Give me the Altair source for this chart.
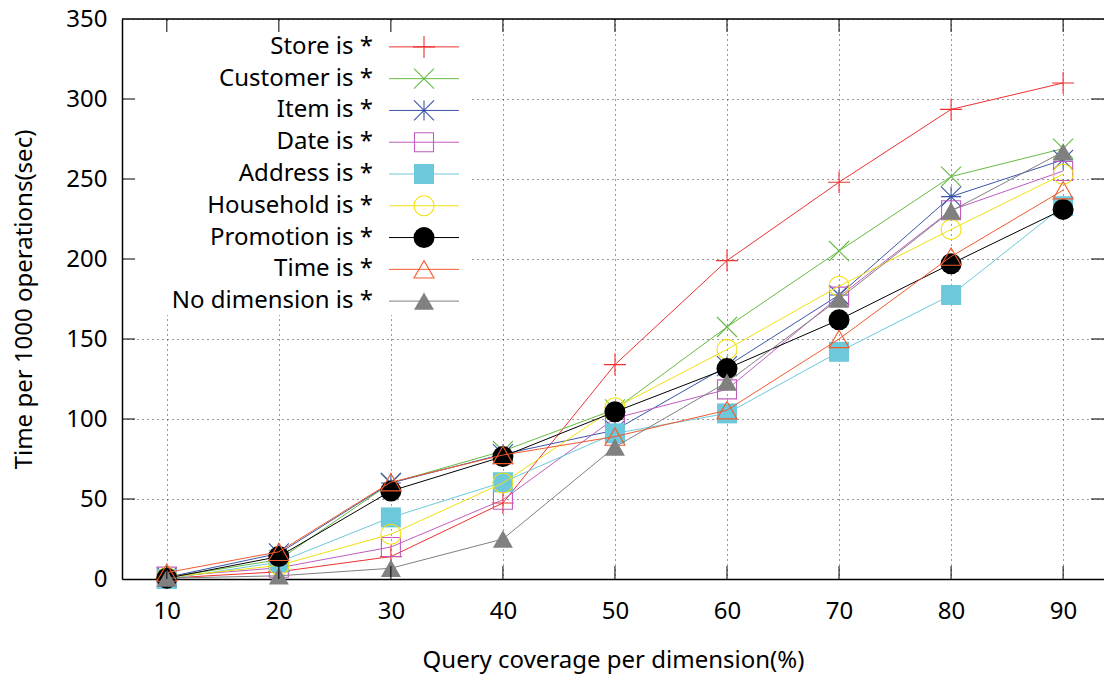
import altair as alt
import pandas as pd

# ---------------- data ----------------
x_values = [10, 20, 30, 40, 50, 60, 70, 80, 90]
y_ticks = [0, 50, 100, 150, 200, 250, 300, 350]
series_names = ["Store is *", "Customer is *", "Item is *", "Date is *",
                "Address is *", "Household is *", "Promotion is *",
                "Time is *", "No dimension is *"]

store = [0.5, 4.5, 14, 47.5, 134, 199, 248, 293.5, 310]
customer = [1, 12, 60, 80, 106, 157.5, 205, 251.5, 269]
item = [1, 16, 60, 78, 93, 133, 177.5, 239, 262]
date = [1.5, 7, 20, 49.5, 100.5, 118.5, 176.5, 230.5, 255]
address = [0, 10.5, 38.5, 60.5, 91, 103.5, 142, 177.5, 233]
household = [1, 8.5, 28, 60, 107, 143.5, 183, 218.5, 253]
promotion = [0.5, 14, 55, 76.5, 104.5, 131.5, 162, 197, 231]
time_dim = [4, 17, 60.5, 77.5, 89, 105.5, 150, 201.5, 243]
no_dim = [0.5, 2, 6.7, 25, 82.5, 123, 175, 230, 267]

series_values = [store, customer, item, date, address, household,
                 promotion, time_dim, no_dim]

# ---------------- styles ----------------
PLUS = "M-1,0L1,0M0,-1L0,1"
XSH = "M-1,-1L1,1M-1,1L1,-1"
AST = "M-1,0L1,0M0,-1L0,1M-1,-1L1,1M-1,1L1,-1"
colors = ["#ee3030", "#66bb44", "#3a56a8", "#c05cc0", "#6cc8da",
          "#f0e010", "#000000", "#f25a2e", "#808080"]
shapes = [PLUS, XSH, AST, "square", "square", "circle", "circle",
          "triangle-up", "triangle-up"]
filled = [False, False, False, False, True, False, True, False, True]
sizes = [484, 400, 400, 361, 400, 400, 441, 400, 400]

FONT = "Noto Sans"
W, H = 982, 560

rows = []
for name, vals in zip(series_names, series_values):
    for xv, yv in zip(x_values, vals):
        rows.append({"x": xv, "value": yv, "series": name})
df = pd.DataFrame(rows)

x_scale = alt.Scale(domain=[6, 93.65], nice=False, zero=False)
y_scale = alt.Scale(domain=[0, 350], nice=False)

x_enc = alt.X("x:Q", scale=x_scale,
              axis=alt.Axis(values=x_values, grid=True, ticks=False, tickSize=0,
                            labelPadding=20, title="Query coverage per dimension(%)",
                            titlePadding=25))
y_enc = alt.Y("value:Q", scale=y_scale,
              axis=alt.Axis(values=y_ticks, grid=True, ticks=False, tickSize=0,
                            labelPadding=15, title="Time per 1000 operations(sec)",
                            titlePadding=29))

main_layers = []
for i, name in enumerate(series_names):
    sub = alt.Chart(df).transform_filter(alt.datum.series == name)
    main_layers.append(sub.mark_line(color=colors[i], strokeWidth=1).encode(x=x_enc, y=y_enc))
    main_layers.append(sub.mark_point(shape=shapes[i], size=sizes[i], filled=filled[i],
                                      color=colors[i], opacity=1, strokeWidth=1.1)
                       .encode(x=x_enc, y=y_enc))
main = alt.layer(*main_layers)

# ---------------- legend ----------------
legend_df = pd.DataFrame({"series": series_names})
ly = alt.Y("series:N",
           scale=alt.Scale(type="point", domain=series_names, range=[12, 298]),
           axis=None)
box = alt.Chart(pd.DataFrame({"a": [0]})).mark_rect(color="white").encode(
    x=alt.value(2), x2=alt.value(348), y=alt.value(2), y2=alt.value(296))
legend_layers = [box,
                 alt.Chart(legend_df).mark_text(align="right", baseline="middle",
                                                fontSize=24, font=FONT, color="black")
                 .encode(x=alt.value(251), y=ly, text="series:N")]
for i, name in enumerate(series_names):
    sub = alt.Chart(legend_df).transform_filter(alt.datum.series == name)
    legend_layers.append(sub.mark_rule(color=colors[i], strokeWidth=1)
                         .encode(x=alt.value(267), x2=alt.value(337), y=ly))
    legend_layers.append(sub.mark_point(shape=shapes[i], size=sizes[i], filled=filled[i],
                                        color=colors[i], opacity=1, strokeWidth=1.1)
                         .encode(x=alt.value(302), y=ly))
legend = alt.layer(*legend_layers)

# ---------------- frame & inward ticks ----------------
xt_df = pd.DataFrame({"v": x_values})
yt_df = pd.DataFrame({"v": y_ticks[1:-1]})
fx = alt.X("v:Q", scale=x_scale, axis=None)
fy = alt.Y("v:Q", scale=y_scale, axis=None)
frame = alt.layer(
    alt.Chart(pd.DataFrame({"a": [0]})).mark_rule(color="black", strokeWidth=1.5)
    .encode(x=alt.value(0), x2=alt.value(W), y=alt.value(0)),
    alt.Chart(yt_df).mark_rule(color="black", strokeWidth=1)
    .encode(y=fy, x=alt.value(0), x2=alt.value(13)),
    alt.Chart(yt_df).mark_rule(color="black", strokeWidth=1)
    .encode(y=fy, x=alt.value(W - 13), x2=alt.value(W)),
    alt.Chart(xt_df).mark_rule(color="black", strokeWidth=1)
    .encode(x=fx, y=alt.value(H - 13), y2=alt.value(H)),
    alt.Chart(xt_df).mark_rule(color="black", strokeWidth=1)
    .encode(x=fx, y=alt.value(0), y2=alt.value(13)),
)

chart = alt.layer(main, legend, frame).resolve_scale(
    x="independent", y="independent"
).properties(
    width=W, height=H,
    autosize=alt.AutoSizeParams(type="none"),
    padding={"left": 122, "top": 19, "right": 0, "bottom": 100},
    background="white",
).configure_view(strokeWidth=0).configure_axis(
    labelFont=FONT, labelFontSize=24, labelColor="black",
    titleFont=FONT, titleFontSize=24, titleFontWeight="normal", titleColor="black",
    domainColor="black", domainWidth=1.5,
    gridColor="#333333", gridDash=[1, 4], gridWidth=1, gridOpacity=1,
)

chart.save("out.html", embed_options={"renderer": "svg", "actions": False})
